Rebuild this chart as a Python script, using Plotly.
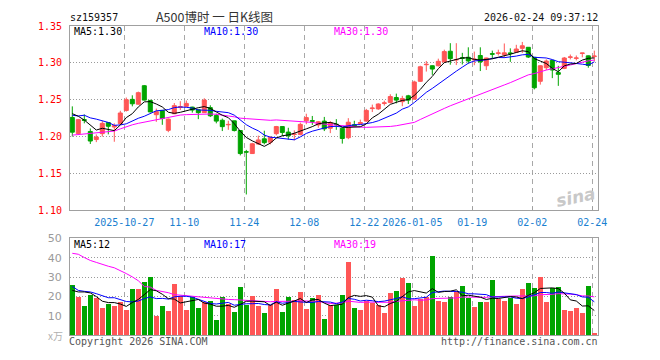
import plotly.graph_objects as go
import pandas as pd

# ---------------- data ----------------
day_idx = list(range(88))  # trading-day index, 2025-10-14 .. 2026-02-24
tick_idx = [9, 19, 29, 39, 49, 57, 67, 77, 87]
tick_labels = ["2025-10-27", "11-10", "11-24", "12-08", "12-22",
               "2026-01-05", "01-19", "02-02", "02-24"]

open_ = [1.226, 1.204, 1.223, 1.207, 1.196, 1.204, 1.219, 1.213, 1.2175, 1.2355,
         1.2505, 1.244, 1.269, 1.249, 1.2297, 1.2355, 1.2085, 1.231, 1.2395, 1.241,
         1.240, 1.2365, 1.2325, 1.2393, 1.2285, 1.2222, 1.2160, 1.2214, 1.2082, 1.1795,
         1.177, 1.190, 1.197, 1.1925, 1.204, 1.2136, 1.2061, 1.2028, 1.2030, 1.2214,
         1.2218, 1.2158, 1.221, 1.2113, 1.2168, 1.2113, 1.1985, 1.2160, 1.2175, 1.2210,
         1.2380, 1.2376, 1.2450, 1.2464, 1.2530, 1.2474, 1.2553, 1.2508, 1.2750, 1.2975,
         1.2961, 1.2961, 1.3013, 1.3158, 1.3040, 1.3070, 1.3076, 1.3040, 1.3100, 1.2961,
         1.3125, 1.3128, 1.3110, 1.3135, 1.3145, 1.3197, 1.3211, 1.3075, 1.2750, 1.2934,
         1.3034, 1.2868, 1.2925, 1.3075, 1.3062, 1.3128, 1.3095, 1.3085]
high = [1.241, 1.224, 1.230, 1.211, 1.203, 1.221, 1.219, 1.218, 1.235, 1.253,
        1.256, 1.261, 1.270, 1.250, 1.238, 1.236, 1.2245, 1.2455, 1.248, 1.249,
        1.2405, 1.2365, 1.252, 1.2425, 1.231, 1.2245, 1.2215, 1.2216, 1.2085, 1.182,
        1.1915, 1.2013, 1.208, 1.2004, 1.2145, 1.214, 1.212, 1.2085, 1.2190, 1.2310,
        1.2280, 1.2212, 1.2267, 1.221, 1.2237, 1.2115, 1.225, 1.2215, 1.2230, 1.2376,
        1.2434, 1.2451, 1.2487, 1.2574, 1.2583, 1.2553, 1.2566, 1.2758, 1.2961, 1.3026,
        1.2965, 1.3057, 1.3179, 1.3267, 1.3267, 1.3136, 1.3211, 1.3153, 1.3211, 1.3070,
        1.3166, 1.3179, 1.3263, 1.3197, 1.3245, 1.3284, 1.3215, 1.3080, 1.2968, 1.3047,
        1.3040, 1.2960, 1.3080, 1.3113, 1.3100, 1.3135, 1.3100, 1.3166]
low = [1.200, 1.203, 1.218, 1.190, 1.1925, 1.200, 1.203, 1.193, 1.216, 1.234,
       1.241, 1.2434, 1.249, 1.233, 1.220, 1.216, 1.206, 1.2305, 1.236, 1.240,
       1.2325, 1.2237, 1.232, 1.2265, 1.218, 1.2075, 1.2092, 1.207, 1.1745, 1.1215,
       1.1765, 1.1887, 1.1895, 1.1895, 1.2017, 1.2005, 1.196, 1.1950, 1.2017, 1.2168,
       1.2158, 1.2120, 1.2075, 1.2047, 1.2092, 1.1905, 1.1965, 1.2135, 1.2165, 1.2201,
       1.2333, 1.2363, 1.2421, 1.2451, 1.2451, 1.2412, 1.2442, 1.2500, 1.2741, 1.2882,
       1.2837, 1.2951, 1.3004, 1.2975, 1.2970, 1.2978, 1.2990, 1.2968, 1.2889, 1.2903,
       1.3057, 1.3100, 1.3066, 1.3013, 1.3136, 1.3136, 1.3066, 1.2640, 1.2705, 1.2903,
       1.2793, 1.2688, 1.2915, 1.3047, 1.3034, 1.3075, 1.2934, 1.3020]
close = [1.206, 1.223, 1.222, 1.194, 1.1995, 1.218, 1.214, 1.215, 1.232, 1.250,
         1.2445, 1.2596, 1.2495, 1.2335, 1.234, 1.2245, 1.2237, 1.242, 1.2405, 1.245,
         1.236, 1.2325, 1.2495, 1.2282, 1.221, 1.2135, 1.2165, 1.2082, 1.177, 1.179,
         1.1903, 1.1955, 1.1918, 1.1991, 1.2136, 1.2057, 1.2010, 1.2034, 1.2166, 1.2258,
         1.2208, 1.2201, 1.2105, 1.2188, 1.2163, 1.1974, 1.2195, 1.2145, 1.2190, 1.2355,
         1.2387, 1.2442, 1.2457, 1.2543, 1.2495, 1.2517, 1.2495, 1.2741, 1.2947, 1.2980,
         1.2916, 1.3021, 1.3153, 1.3057, 1.3045, 1.3062, 1.3026, 1.3050, 1.3013, 1.3066,
         1.3118, 1.3135, 1.3136, 1.3128, 1.3188, 1.3232, 1.3079, 1.2662, 1.2961, 1.3025,
         1.2903, 1.2845, 1.3066, 1.3080, 1.3066, 1.3133, 1.2965, 1.3092]
volume = [25.8, 19.4, 14.8, 20.6, 18.9, 13.8, 15.8, 14.8, 16.8, 12.8,
          23.8, 23.8, 27.3, 29.8, 9.8, 14.8, 12.3, 26.3, 19.8, 12.8,
          19.3, 13.8, 16.8, 17.3, 7.3, 19.4, 15.9, 11.8, 24.8, 15.3,
          19.8, 14.8, 11.3, 15.3, 23.8, 11.8, 19.3, 17.8, 21.8, 13.3,
          18.8, 20.3, 8.3, 15.3, 15.3, 20.3, 37.8, 13.8, 12.8, 17.3,
          16.3, 15.3, 11.3, 21.3, 22.8, 29.3, 26.8, 14.8, 18.3, 19.3,
          40.8, 17.3, 16.8, 19.3, 22.8, 25.3, 18.8, 14.3, 16.8, 16.8,
          28.3, 18.3, 17.3, 18.8, 15.8, 23.8, 26.8, 24.3, 29.8, 16.8,
          24.3, 24.8, 12.8, 12.3, 13.8, 11.3, 25.3, 0.6]

ma5_head = [1.2311, 1.2276, 1.2224, 1.2158]
ma10_head = [1.2290, 1.2280, 1.2290, 1.2254, 1.2237, 1.2214, 1.2192, 1.2153, 1.2158]
ma30_head = [1.2020, 1.2028, 1.2035, 1.2037, 1.2042, 1.2050, 1.2058, 1.2075, 1.2105, 1.2135,
             1.2160, 1.2180, 1.2195, 1.2210, 1.2225, 1.2240, 1.2260, 1.2280, 1.2292, 1.2298,
             1.2302, 1.2305, 1.2306, 1.2306, 1.2303, 1.2295, 1.2280, 1.2268, 1.2250]
vma5_head = [23.1, 22.3, 22.3, 21.8]
vma10_head = [25.1, 23.1, 22.6, 22.3, 21.4, 20.3, 19.3, 19.3, 18.4]
vma30_head = [42.3, 41.8, 40.1, 38.6, 37.6, 36.4, 35.6, 34.8, 33.4, 31.8,
              30.1, 28.1, 25.1, 24.8, 23.1, 22.6, 21.9, 20.9, 20.6, 20.6,
              20.3, 19.8, 19.4, 19.1, 18.9, 18.6, 18.4, 18.3, 18.1]

price_ticks = [1.10, 1.15, 1.20, 1.25, 1.30, 1.35]
vol_ticks = [10, 20, 30, 40, 50]


def moving_avg(values, n, head):
    s = pd.Series(values).rolling(n).mean().tolist()
    return list(head) + s[len(head):]


ma5 = moving_avg(close, 5, ma5_head)
ma10 = moving_avg(close, 10, ma10_head)
ma30 = moving_avg(close, 30, ma30_head)
vma5 = moving_avg(volume, 5, vma5_head)
vma10 = moving_avg(volume, 10, vma10_head)
vma30 = moving_avg(volume, 30, vma30_head)

# ---------------- style / layout ----------------
RED = "#ff5656"
GREEN = "#00a400"
BLUE_MA = "#0000ff"
MAG = "#ff00ff"
GRID = "#a8a8a8"
BORDER = "#a0a0a0"
MONO = "DejaVu Sans Mono"

# page body has an 8px default margin; size the figure so it fits the 660x360 window
OFF = 8
FW, FH = 644, 344
PLOT_L, PLOT_T, PLOT_W, PLOT_H = 70, 21, 528, 319   # window pixels of the plot area
ML = PLOT_L - OFF
MT = PLOT_T - OFF
MR = FW - ML - PLOT_W
MB = FH - MT - PLOT_H
PLOT_B = PLOT_T + PLOT_H


def px(x):
    return (x - PLOT_L) / PLOT_W


def py(y):
    return (PLOT_B - y) / PLOT_H


x_range = [-0.383, 87.617]
tickpos = [i - 1 / 3 for i in tick_idx]
vol_colors = [RED if c >= o else GREEN for o, c in zip(open_, close)]

fig = go.Figure()

fig.add_trace(go.Candlestick(
    x=day_idx, open=open_, high=high, low=low, close=close,
    increasing=dict(line=dict(color=RED, width=1), fillcolor=RED),
    decreasing=dict(line=dict(color=GREEN, width=1), fillcolor=GREEN),
    whiskerwidth=0, xaxis="x", yaxis="y", hoverinfo="skip", showlegend=False))

for vals, col in [(ma30, MAG), (ma10, BLUE_MA), (ma5, "#000000")]:
    fig.add_trace(go.Scatter(x=day_idx, y=vals, mode="lines",
                             line=dict(color=col, width=1),
                             xaxis="x", yaxis="y", hoverinfo="skip", showlegend=False))

fig.add_trace(go.Bar(x=day_idx, y=volume, marker=dict(color=vol_colors, line=dict(width=0)),
                     width=0.83, xaxis="x2", yaxis="y2", hoverinfo="skip", showlegend=False))

for vals, col in [(vma30, MAG), (vma10, BLUE_MA), (vma5, "#000000")]:
    fig.add_trace(go.Scatter(x=day_idx, y=vals, mode="lines",
                             line=dict(color=col, width=1),
                             xaxis="x2", yaxis="y2", hoverinfo="skip", showlegend=False))

common_x = dict(range=x_range, tickmode="array", tickvals=tickpos,
                showgrid=True, gridcolor=GRID, griddash="5px,4px", gridwidth=1,
                showline=True, mirror=True, linecolor=BORDER, linewidth=1,
                zeroline=False, fixedrange=True)

fig.update_layout(
    width=FW, height=FH,
    margin=dict(l=ML, r=MR, t=MT, b=MB, pad=0),
    paper_bgcolor="white", plot_bgcolor="white",
    showlegend=False,
    boxgap=0.33, boxgroupgap=0,
    bargap=0,
    xaxis=dict(domain=[0, 1], anchor="y", ticktext=tick_labels,
               ticks="inside", ticklen=3, tickcolor=BORDER,
               tickfont=dict(family=MONO, size=10, color="#1a80d0"),
               ticklabelstandoff=3,
               rangeslider=dict(visible=False), **common_x),
    yaxis=dict(domain=[py(211.3), 1], anchor="x", range=[1.10, 1.35],
               tickmode="array", tickvals=price_ticks,
               ticktext=["%.2f" % v for v in price_ticks],
               tickfont=dict(family=MONO, size=10, color="#ff0000"),
               ticks="", ticklabelstandoff=5,
               showgrid=True, gridcolor="#9a9a9a", griddash="1px,2px",
               showline=True, mirror=True, linecolor=BORDER, linewidth=1,
               zeroline=False, fixedrange=True),
    xaxis2=dict(domain=[0, 1], anchor="y2", showticklabels=False, ticks="",
                **common_x),
    yaxis2=dict(domain=[0, py(240.3)], anchor="x2", range=[0, 50],
                tickmode="array", tickvals=vol_ticks,
                tickfont=dict(family="DejaVu Sans", size=11, color="#9a9a9a"),
                ticks="", ticklabelstandoff=5,
                showgrid=True, gridcolor="#9a9a9a", griddash="1px,2px",
                showline=True, mirror=True, linecolor=BORDER, linewidth=1,
                zeroline=False, fixedrange=True),
)


def note(text, x, y, color="#000000", size=10, family=MONO, xanchor="left", **kw):
    fig.add_annotation(text=text, x=px(x), y=py(y), xref="paper", yref="paper",
                       xanchor=xanchor, yanchor="middle", showarrow=False,
                       borderpad=0,
                       font=dict(family=family, size=size, color=color), **kw)


note("sz159357", 69, 12.5, "#111111", 10)
note("A500博时 一 日K线图", 214, 11.5, "#333333", 12.5, "Noto Sans CJK SC", "center")
note("2026-02-24 09:37:12", 599, 12.5, "#111111", 10, xanchor="right")

note("MA5:%.2f" % 1.30, 73, 27, "#000000")
note("MA10:%.2f" % 1.30, 203, 27, BLUE_MA)
note("MA30:%.2f" % 1.30, 333, 27, MAG)

note("MA5:%d" % 12, 73, 246.5, "#000000")
note("MA10:%d" % 17, 203, 246.5, BLUE_MA)
note("MA30:%d" % 19, 333, 246.5, MAG)

note("x万", 64, 340, "#b0b0b0", 10, "Noto Sans CJK SC", "right")
note("Copyright 2026 SINA.COM", 68, 346.5, "#555555", 10)
note("http://finance.sina.com.cn", 599, 346.5, "#555555", 10, xanchor="right")
note("<i><b>sina</b></i>", 576, 198, "#c8c8c8", 17, "DejaVu Sans", "center", textangle=-12)

fig.write_html("out.html")
